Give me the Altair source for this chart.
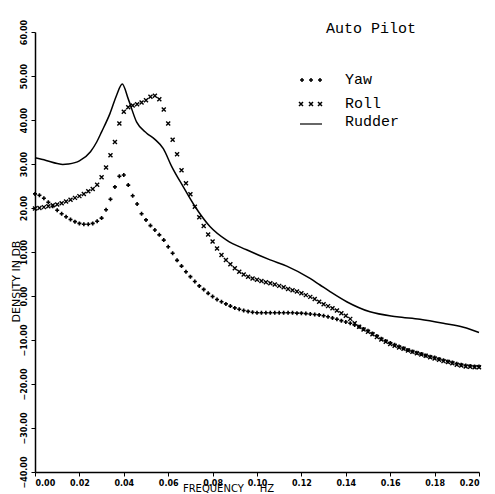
import altair as alt
import pandas as pd

# frequency grid (Hz) for the dotted series, step 0.002
freq = [round(i * 0.002, 3) for i in range(101)]

yaw = [23.2, 22.9, 22.2, 21.3, 20.4, 19.5, 18.7, 18.0, 17.4, 16.9,
       16.5, 16.3, 16.3, 16.5, 17.0, 17.7, 19.6, 22.0, 24.8, 27.2,
       27.5, 25.2, 22.8, 20.9, 18.7, 17.3, 16.0, 15.0, 13.9, 12.7,
       11.2, 9.7, 8.1, 6.8, 5.5, 4.4, 3.3, 2.3, 1.5, 0.6,
       -0.1, -0.8, -1.3, -1.8, -2.3, -2.7, -3.0, -3.3, -3.5, -3.7,
       -3.8, -3.8, -3.8, -3.8, -3.8, -3.8, -3.8, -3.8, -3.8, -3.9,
       -3.9, -4.0, -4.1, -4.2, -4.3, -4.5, -4.7, -5.0, -5.3, -5.6,
       -5.9, -6.2, -6.6, -7.0, -7.5, -7.9, -8.5, -9.1, -9.7, -10.2,
       -10.7, -11.1, -11.5, -11.9, -12.3, -12.6, -12.9, -13.2, -13.5, -13.8,
       -14.0, -14.3, -14.6, -14.9, -15.1, -15.4, -15.6, -15.8, -15.9, -16.0,
       -16.0]

roll = [19.9, 20.0, 20.2, 20.4, 20.6, 20.8, 21.1, 21.5, 21.9, 22.3,
        22.7, 23.2, 23.8, 24.3, 25.3, 27.0, 29.2, 32.0, 35.0, 39.2,
        41.9, 42.9, 43.3, 43.6, 44.0, 44.5, 45.3, 45.5, 44.7, 42.4,
        39.2, 35.5, 32.2, 28.6, 25.6, 23.1, 20.3, 17.9, 15.9, 14.0,
        12.4, 10.8, 9.3, 8.2, 7.2, 6.3, 5.5, 4.9, 4.4, 4.0,
        3.7, 3.4, 3.1, 2.9, 2.6, 2.3, 2.0, 1.6, 1.3, 1.0,
        0.6, 0.2, -0.2, -0.7, -1.3, -1.9, -2.3, -2.8, -3.3, -3.9,
        -4.5, -5.2, -6.2, -7.0, -7.6, -8.1, -8.7, -9.3, -9.9, -10.4,
        -10.9, -11.3, -11.7, -12.0, -12.4, -12.7, -13.0, -13.3, -13.6, -13.9,
        -14.2, -14.5, -14.8, -15.0, -15.3, -15.6, -15.8, -16.0, -16.1, -16.2,
        -16.2]

rudder_freq = [0.0, 0.005, 0.010, 0.0125, 0.015, 0.020, 0.025, 0.0278, 0.030,
               0.0338, 0.0368, 0.0393, 0.042, 0.0458, 0.0503, 0.054, 0.0578,
               0.0616, 0.0668, 0.072, 0.0788, 0.0863, 0.0953, 0.1059, 0.1134,
               0.1239, 0.1284, 0.1329, 0.1404, 0.1509, 0.163, 0.1734, 0.1839,
               0.193, 0.200]
rudder = [31.4, 30.8, 30.1, 29.9, 30.0, 30.7, 32.8, 35.0, 37.3,
          41.5, 45.7, 48.2, 44.8, 39.5, 37.0, 35.6, 33.5,
          29.4, 24.8, 20.4, 15.8, 12.7, 10.5, 8.2, 6.8,
          4.0, 2.5, 1.0, -1.3, -3.6, -4.7, -5.3, -6.2,
          -7.1, -8.3]

x_ticks = [0.00, 0.02, 0.04, 0.06, 0.08, 0.10, 0.12, 0.14, 0.16, 0.18, 0.20]
y_ticks = [-40, -30, -20, -10, 0, 10, 20, 30, 40, 50, 60]

df_yaw = pd.DataFrame({"f": freq, "db": yaw})
df_roll = pd.DataFrame({"f": freq, "db": roll})
df_rud = pd.DataFrame({"f": rudder_freq, "db": rudder})

W, H = 444, 440
lab_font = "DejaVu Sans"
mono = "Liberation Mono"
MS = 16
PLUS = "M-1,0L1,0M0,-1L0,1"
XSYM = "M-1,-1L1,1M-1,1L1,-1"

xs = alt.Scale(domain=[0, 0.2], nice=False, zero=False)
ys = alt.Scale(domain=[-40, 60], nice=False, zero=False)

xenc = alt.X("f:Q", scale=xs, axis=alt.Axis(
    values=x_ticks, format=".2f",
    title="FREQUENCY\u00a0\u00a0\u00a0\u00a0\u00a0HZ",
    grid=False, domainColor="black", domainWidth=1.5, tickColor="black",
    tickSize=4, labelFont=lab_font, labelFontSize=8, labelFontWeight="bold",
    labelColor="black", labelPadding=3, titleFont=lab_font, titleFontSize=10,
    titleFontWeight="normal", titleColor="black", titleX=193, titleY=19,
    titleBaseline="alphabetic"))
yenc = alt.Y("db:Q", scale=ys, axis=alt.Axis(
    values=y_ticks, format=".2f", title="DENSITY IN DB",
    grid=False, domainColor="black", domainWidth=1.5, tickColor="black",
    tickSize=4, labelFont=lab_font, labelFontSize=8, labelFontWeight="bold",
    labelColor="black", labelAngle=270, labelAlign="center",
    labelBaseline="bottom", labelPadding=3, titleFont=lab_font,
    titleFontSize=11, titleFontWeight="normal", titleColor="black",
    titleAngle=270, titleX=-19, titleY=249, titleAlign="center",
    titleBaseline="middle"))

yaw_pts = alt.Chart(df_yaw).mark_point(
    shape=PLUS, filled=False, size=MS, strokeWidth=1.6, color="black",
    opacity=1).encode(x=xenc, y=yenc)

roll_pts = alt.Chart(df_roll).mark_point(
    shape=XSYM, filled=False, size=MS, strokeWidth=1.4, color="black",
    opacity=1).encode(x=xenc, y=yenc)

rud_line = alt.Chart(df_rud).mark_line(
    color="black", strokeWidth=1.5, interpolate="monotone"
).encode(x=xenc, y=yenc)

# manual legend (fixed pixel positions, not data)
one = pd.DataFrame({"k": [0]})

def sym(x, y, shape):
    return alt.Chart(one).mark_point(
        shape=shape, filled=False, size=MS, strokeWidth=1.5, color="black",
        opacity=1).encode(x=alt.value(x), y=alt.value(y))

def txt(s, x, y, size=15):
    return alt.Chart(one).mark_text(
        text=s, font=mono, fontSize=size, align="left", baseline="middle",
        color="black").encode(x=alt.value(x), y=alt.value(y))

leg_layers = [sym(x, 48, PLUS) for x in (267, 276, 285)]
leg_layers += [sym(x, 72, XSYM) for x in (266, 276, 285)]
leg_layers.append(alt.Chart(one).mark_rule(color="black", strokeWidth=1.2).encode(
    x=alt.value(265), x2=alt.value(287), y=alt.value(92)))
leg_layers += [txt("Auto Pilot", 291, -4), txt("Yaw", 310, 47),
               txt("Roll", 310, 71), txt("Rudder", 310, 89)]

chart = alt.layer(
    rud_line, yaw_pts, roll_pts, *leg_layers
).properties(
    width=W, height=H,
    autosize=alt.AutoSizeParams(type="none"),
    padding={"left": 35, "top": 32, "right": 16, "bottom": 22},
    background="white"
).configure_view(stroke=None)

chart.save("out.html", embed_options={"renderer": "svg", "actions": False})
